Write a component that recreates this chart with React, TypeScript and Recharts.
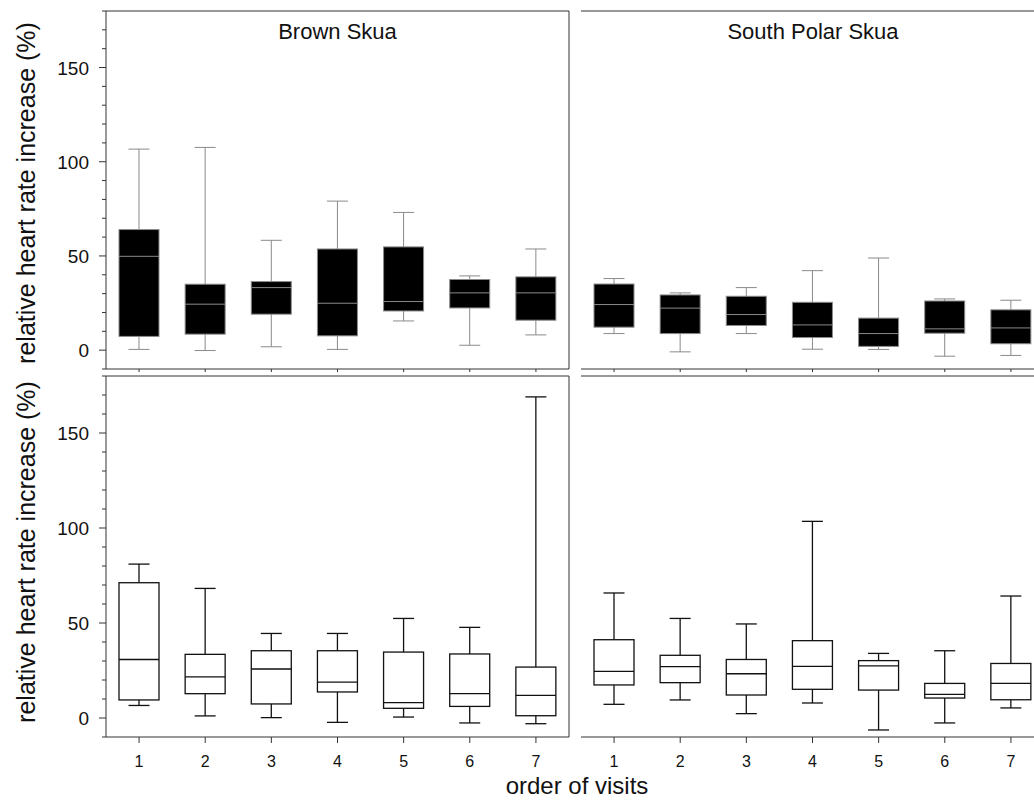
import React from "react";
import { ComposedChart, Bar, XAxis, YAxis } from "recharts";

const visits = ["1", "2", "3", "4", "5", "6", "7"];

// y ticks every 10, labels on the multiples of 50
const yTicks = [-10, 0, 10, 20, 30, 40, 50, 60, 70, 80, 90, 100, 110, 120, 130, 140, 150, 160, 170, 180];
const yLabelled = [0, 50, 100, 150];

// each entry: [min, q1, median, q3, max]
const brownFirst = [
  [0.4, 7.3, 49.8, 64, 106.7],
  [-0.2, 8.5, 24.4, 35, 107.6],
  [1.8, 19.1, 33.2, 36.4, 58.3],
  [0.4, 7.6, 24.9, 53.7, 79.1],
  [15.5, 20.8, 25.8, 54.8, 73.1],
  [2.6, 22.4, 30.4, 37.5, 39.4],
  [8.1, 15.9, 30.4, 38.9, 53.7],
];
const southFirst = [
  [8.8, 12.2, 24.2, 35.1, 38],
  [-0.9, 8.8, 22.3, 29.3, 30.4],
  [8.8, 13.1, 18.9, 28.6, 33.2],
  [0.5, 6.7, 13.4, 25.4, 42.2],
  [0.4, 2, 8.8, 17, 48.9],
  [-3.2, 9, 11.3, 26.1, 27.2],
  [-2.8, 3.4, 11.8, 21.4, 26.5],
];
const brownSecond = [
  [6.6, 9.5, 30.8, 71.2, 81],
  [1.1, 12.8, 21.6, 33.5, 68.2],
  [0.2, 7.4, 25.8, 35.4, 44.5],
  [-2.3, 13.7, 18.9, 35.4, 44.5],
  [0.5, 5.1, 8.1, 34.7, 52.4],
  [-2.6, 6.1, 12.8, 33.7, 47.7],
  [-3, 1.2, 11.9, 26.8, 169],
];
const southSecond = [
  [7.2, 17.4, 24.5, 41.2, 65.8],
  [9.5, 18.6, 27, 33, 52.4],
  [2.3, 12.1, 23.3, 30.8, 49.5],
  [7.9, 15.1, 27.2, 40.7, 103.5],
  [-6.3, 14.7, 27.4, 30.2, 34],
  [-2.6, 10.5, 12.4, 18.2, 35.4],
  [5.3, 9.6, 18.2, 28.7, 64.2],
];

const FONT = "'Liberation Sans', Arial, sans-serif";
const AXIS = "#333";

function rows(stats: number[][]) {
  return visits.map((v, i) => ({
    visit: v,
    min: stats[i][0],
    q1: stats[i][1],
    median: stats[i][2],
    q3: stats[i][3],
    max: stats[i][4],
  }));
}

function makeBox(fill: string, stroke: string, sw: number) {
  return (props: any) => {
    const { x, y, width, height, payload } = props;
    const top = Math.min(y, y + height);
    const bot = Math.max(y, y + height);
    const span = payload.max - payload.min || 1;
    const py = (v: number) => bot - ((v - payload.min) / span) * (bot - top);
    const cx = x + width / 2;
    const cap = 10.5;
    return (
      <g>
        <line x1={cx} x2={cx} y1={top} y2={bot} stroke={stroke} strokeWidth={sw} />
        <line x1={cx - cap} x2={cx + cap} y1={top} y2={top} stroke={stroke} strokeWidth={sw} />
        <line x1={cx - cap} x2={cx + cap} y1={bot} y2={bot} stroke={stroke} strokeWidth={sw} />
        <rect
          x={x}
          y={py(payload.q3)}
          width={width}
          height={py(payload.q1) - py(payload.q3)}
          fill={fill}
          stroke={stroke}
          strokeWidth={sw}
        />
        <line x1={x} x2={x + width} y1={py(payload.median)} y2={py(payload.median)} stroke={stroke} strokeWidth={sw} />
      </g>
    );
  };
}

interface PanelProps {
  stats: number[][];
  left: number;
  top: number;
  width: number;
  height: number;
  margin: { top: number; right: number; bottom: number; left: number };
  yWidth: number;
  xHeight: number;
  yLabels: boolean;
  xLabels: boolean;
  filled: boolean;
}

function Panel(p: PanelProps) {
  const fill = p.filled ? "#000" : "#fff";
  const stroke = p.filled ? "#8a8a8a" : "#111";
  const sw = p.filled ? 1 : 1.3;

  const yTick = (t: any) => {
    const v = t.payload.value;
    const major = yLabelled.includes(v);
    if (!p.yLabels) {
      if (!major) return <g />;
      return <line x1={t.x - 2} x2={t.x} y1={t.y} y2={t.y} stroke={AXIS} />;
    }
    return (
      <g>
        <line x1={t.x - (major ? 7 : 4)} x2={t.x} y1={t.y} y2={t.y} stroke={AXIS} />
        {major && (
          <text x={t.x - 17} y={t.y + 7} textAnchor="end" fontSize={19} fontFamily={FONT} fill="#111">
            {v}
          </text>
        )}
      </g>
    );
  };

  const xTick = (t: any) => (
    <g>
      <line x1={t.x} x2={t.x} y1={t.y} y2={t.y + (p.xLabels ? 6 : 3)} stroke={AXIS} />
      {p.xLabels && (
        <text x={t.x} y={t.y + 30} textAnchor="middle" fontSize={16} fontFamily={FONT} fill="#111">
          {t.payload.value}
        </text>
      )}
    </g>
  );

  return (
    <div style={{ position: "absolute", left: p.left, top: p.top }}>
      <ComposedChart width={p.width} height={p.height} data={rows(p.stats)} margin={p.margin}>
        <XAxis
          dataKey="visit"
          height={p.xHeight}
          interval={0}
          tickSize={0}
          tickMargin={0}
          tick={xTick}
          axisLine={{ stroke: AXIS }}
        />
        <YAxis
          type="number"
          domain={[-10, 180]}
          ticks={yTicks}
          interval={0}
          width={p.yWidth}
          tickSize={0}
          tickMargin={0}
          tick={yTick}
          axisLine={{ stroke: AXIS }}
          allowDataOverflow
        />
        <Bar
          dataKey={(d: any) => [d.min, d.max]}
          barSize={40}
          shape={makeBox(fill, stroke, sw)}
          isAnimationActive={false}
        />
      </ComposedChart>
    </div>
  );
}

export default function App() {
  const topMargin = { top: 11, right: 11, bottom: 0, left: 46 };
  const botMargin = { top: 6, right: 11, bottom: 0, left: 46 };
  const topMarginR = { top: 11, right: 11, bottom: 0, left: 6 };
  const botMarginR = { top: 6, right: 11, bottom: 0, left: 6 };
  return (
    <div
      style={{
        position: "absolute",
        left: 0,
        top: 0,
        width: 1034,
        height: 800,
        overflow: "hidden",
        background: "#fff",
      }}
    >
      <Panel stats={brownFirst} left={0} top={0} width={580} height={375} margin={topMargin}
        yWidth={60} xHeight={6} yLabels xLabels={false} filled />
      <Panel stats={southFirst} left={575} top={0} width={480} height={375} margin={topMarginR}
        yWidth={0} xHeight={6} yLabels={false} xLabels={false} filled />
      <Panel stats={brownSecond} left={0} top={370} width={580} height={430} margin={botMargin}
        yWidth={60} xHeight={63} yLabels xLabels filled={false} />
      <Panel stats={southSecond} left={575} top={370} width={480} height={430} margin={botMarginR}
        yWidth={0} xHeight={63} yLabels={false} xLabels filled={false} />
      <svg
        width={1034}
        height={800}
        style={{ position: "absolute", left: 0, top: 0, pointerEvents: "none" }}
        fontFamily={FONT}
        fill="#111"
      >
        {/* panel frames (top and right edges) */}
        <g stroke={AXIS} strokeWidth={1} fill="none">
          <polyline points="106,11 569,11 569,369" />
          <polyline points="106,376 569,376 569,737" />
          <line x1={581} y1={11} x2={1034} y2={11} />
          <line x1={581} y1={376} x2={1034} y2={376} />
        </g>
        <text x={337.5} y={39} textAnchor="middle" fontSize={22}>Brown Skua</text>
        <text x={813} y={39} textAnchor="middle" fontSize={22}>South Polar Skua</text>
        <text x={35} y={193} textAnchor="middle" fontSize={25} transform="rotate(-90, 35, 193)">
          relative heart rate increase (%)
        </text>
        <text x={35} y={552} textAnchor="middle" fontSize={25} transform="rotate(-90, 35, 552)">
          relative heart rate increase (%)
        </text>
        <text x={577} y={794} textAnchor="middle" fontSize={24}>order of visits</text>
      </svg>
    </div>
  );
}
